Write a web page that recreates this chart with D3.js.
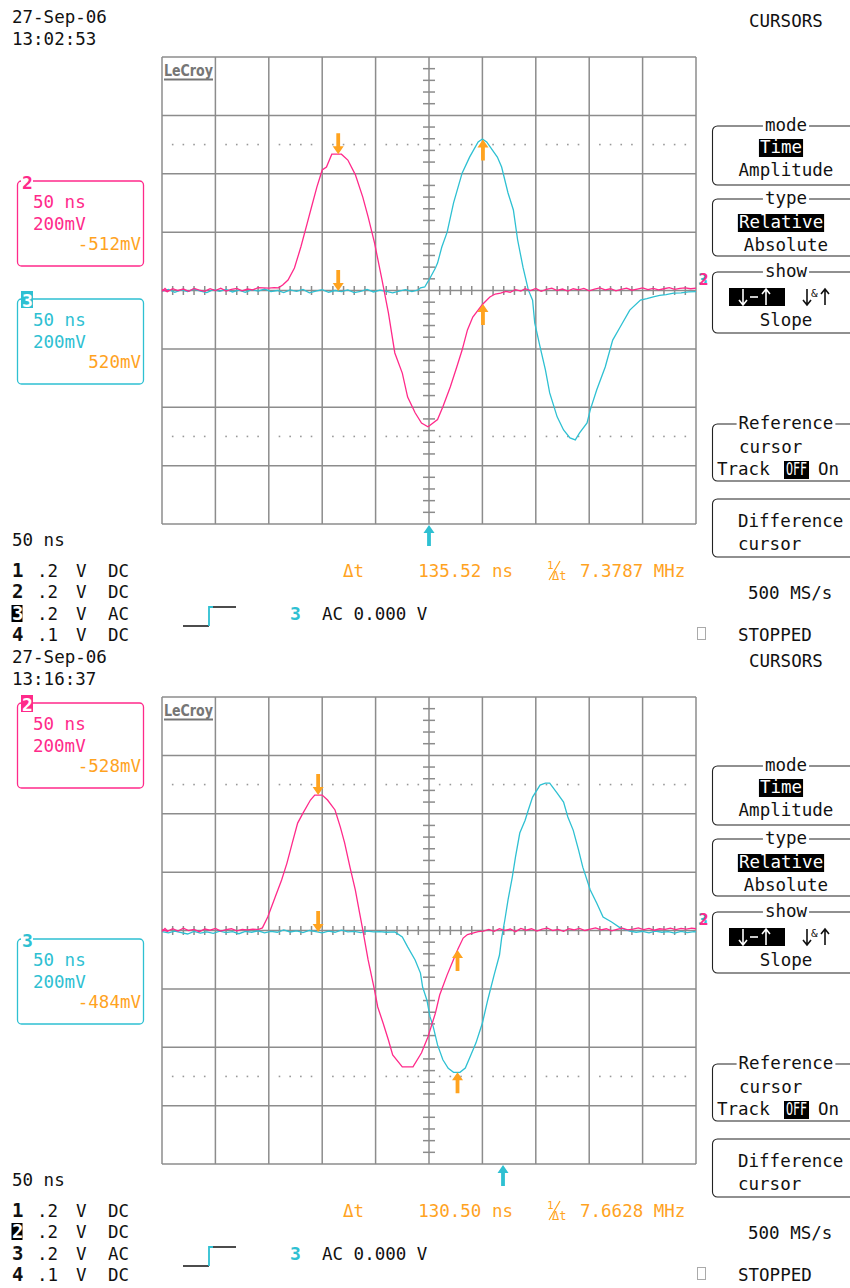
<!DOCTYPE html>
<html>
<head>
<meta charset="utf-8">
<script src="https://cdn.jsdelivr.net/npm/d3@7"></script>
<style>
  html, body { margin: 0; padding: 0; background: #fff; }
  svg { display: block; }
  text { font-family: "DejaVu Sans Mono", monospace; font-size: 17.5px; fill: #111; }
</style>
</head>
<body>
<svg id="scope" width="850" height="1288"></svg>
<script>
// ---- acquisition header ----
const captureDates = ["27-Sep-06", "27-Sep-06"];
const captureTimes = ["13:02:53", "13:16:37"];

// ---- waveforms: [time ns, amplitude mV] ----
const ch2First = [[-250,3],[-245,-4],[-240,6],[-235,0],[-230,5],[-225,-3],[-220,7],[-215,1],[-210,-3],[-205,6],[-200,0],[-195,8],[-190,-2],[-185,4],[-180,7],[-175,-1],[-170,5],[-165,2],[-160,10],[-155,9],[-150,8],[-145,10],[-141,9],[-137,19],[-132,36],[-126,77],[-120,149],[-114,231],[-110,286],[-105,354],[-100,413],[-96,423],[-91,467],[-82,467],[-76,447],[-69,397],[-62,320],[-57,252],[-51,163],[-44,36],[-38,-77],[-32,-214],[-25,-283],[-20,-365],[-13,-419],[-7,-454],[-1,-467],[1,-462],[8,-442],[13,-398],[20,-330],[26,-262],[31,-204],[36,-135],[41,-91],[50,-48],[57,-22],[62,-12],[67,-9],[72,-3],[76,-6],[81,3],[86,-2],[90,6],[95,0],[100,7],[105,-3],[110,4],[115,8],[120,0],[125,5],[130,-2],[135,6],[140,2],[145,7],[150,-1],[155,5],[160,9],[165,2],[170,6],[175,-1],[180,4],[185,8],[190,1],[195,5],[200,9],[205,3],[210,7],[215,2],[220,6],[225,10],[230,4],[235,7],[240,9],[245,6],[250,8]];
const ch3First = [[-250,-3],[-244,4],[-238,-6],[-232,2],[-226,-4],[-220,5],[-214,-2],[-208,-7],[-202,3],[-196,-3],[-190,4],[-184,-5],[-178,1],[-172,-6],[-166,3],[-160,-2],[-154,5],[-148,-4],[-142,0],[-136,-7],[-130,2],[-124,-3],[-118,4],[-112,-8],[-106,-2],[-100,3],[-94,-6],[-88,0],[-82,-4],[-76,2],[-70,-7],[-64,-3],[-58,4],[-52,-5],[-46,1],[-40,-3],[-34,-8],[-28,-2],[-22,3],[-16,-4],[-10,2],[-8,9],[-4,12],[1,43],[6,77],[8,94],[12,149],[17,200],[23,300],[31,402],[38,457],[46,509],[50,519],[54,509],[64,457],[68,423],[74,334],[79,276],[83,173],[88,80],[93,2],[97,-33],[99,-111],[104,-193],[109,-272],[113,-351],[120,-433],[126,-478],[132,-505],[137,-512],[141,-488],[148,-454],[151,-409],[157,-341],[165,-262],[172,-170],[179,-125],[188,-67],[198,-33],[204,-28],[210,-22],[216,-17],[222,-14],[229,-9],[236,-8],[243,-5],[250,-4]];
const ch2Second = [[-250,3],[-245,-3],[-240,6],[-235,-2],[-230,8],[-225,0],[-220,4],[-215,-4],[-210,5],[-205,1],[-200,7],[-195,-2],[-190,3],[-185,6],[-180,-1],[-175,4],[-170,2],[-165,5],[-160,3],[-156,9],[-151,46],[-144,115],[-138,173],[-133,231],[-128,300],[-123,368],[-118,402],[-111,447],[-107,464],[-100,464],[-95,447],[-88,413],[-83,354],[-79,300],[-74,217],[-69,139],[-65,60],[-62,2],[-57,-101],[-51,-204],[-48,-262],[-43,-317],[-38,-375],[-34,-426],[-25,-467],[-15,-467],[-7,-419],[-1,-365],[6,-283],[10,-221],[17,-152],[22,-108],[27,-64],[32,-26],[36,-14],[41,-9],[46,-4],[51,-2],[56,4],[61,-3],[66,6],[71,0],[76,5],[81,-4],[86,7],[91,1],[96,6],[101,-2],[106,5],[111,8],[116,0],[121,4],[126,-3],[131,6],[136,2],[141,7],[146,0],[151,5],[156,9],[161,2],[166,6],[171,-1],[176,4],[181,8],[186,2],[191,5],[196,9],[201,3],[206,7],[211,1],[216,6],[221,4],[226,8],[231,3],[236,7],[241,5],[246,8],[250,6]];
const ch3Second = [[-250,-4],[-244,-8],[-238,-2],[-232,-7],[-226,-12],[-220,-3],[-214,-9],[-208,-5],[-202,-10],[-196,-2],[-190,-7],[-184,-4],[-178,-11],[-172,-3],[-166,-6],[-160,-1],[-154,-8],[-148,-3],[-142,-6],[-136,2],[-130,-5],[-124,-1],[-118,-7],[-112,0],[-106,-4],[-100,-8],[-94,-2],[-88,-6],[-82,1],[-76,-5],[-70,-3],[-64,-7],[-58,-2],[-52,-5],[-46,-4],[-40,-6],[-32,-5],[-25,-22],[-20,-56],[-13,-101],[-8,-146],[-6,-193],[-2,-238],[1,-296],[4,-330],[8,-392],[13,-443],[18,-472],[23,-486],[29,-486],[34,-471],[38,-437],[44,-385],[50,-317],[55,-238],[61,-152],[66,-84],[68,-26],[71,36],[74,105],[78,183],[81,252],[85,334],[90,378],[93,413],[97,457],[104,498],[109,505],[113,505],[120,471],[126,440],[130,389],[135,344],[140,276],[144,217],[151,139],[157,94],[163,46],[171,29],[179,9],[188,-2],[194,-6],[200,-3],[206,-8],[212,-2],[218,-6],[224,-4],[230,-9],[236,-3],[242,-7],[248,-4],[250,-5]];

// ---- cursor and trigger settings ----
const cursorStartNs = [-85.0, -103.8];
const deltaTNs = [135.52, 130.50];
const inverseDeltaLabels = ["7.3787 MHz", "7.6628 MHz"];
const ch2Readouts = ["-512mV", "-528mV"];
const ch3Readouts = ["520mV", "-484mV"];
const triggerNs = [0, 69.3];
const selectedChannel = [3, 2];     // channel shown highlighted in the lower table
const ch2LabelInverse = [false, true];
const ch3LabelInverse = [true, false];

// ---- channel table and fixed labels ----
const channelNumbers = ["1", "2", "3", "4"];
const channelScales = [".2", ".2", ".2", ".1"];
const channelCoupling = ["DC", "DC", "AC", "DC"];
const timeDivLabel = "50 ns";
const voltDivLabel = "200mV";
const sampleRateLabel = "500 MS/s";
const runStateLabel = "STOPPED";
const triggerLabel = "AC 0.000 V";

const PINK = "#ff2a8a", CYAN = "#2ec0d2", ORANGE = "#ffa31f", GRID = "#8c8c8c";
const CW = 10.53; // monospace advance at 17.5px

const svg = d3.select("#scope");

function txt(g, x, y, s, o = {}) {
  const t = g.append("text").attr("x", x).attr("y", y).text(s);
  if (o.fill) t.style("fill", o.fill);
  if (o.anchor) t.attr("text-anchor", o.anchor);
  if (o.size) t.style("font-size", o.size + "px");
  if (o.weight) t.style("font-weight", o.weight);
  if (o.family) t.style("font-family", o.family);
  if (o.len) t.attr("textLength", o.len).attr("lengthAdjust", "spacingAndGlyphs");
  return t;
}

function inverseText(g, cx, y, s) {
  const w = s.length * CW;
  const x0 = cx - w / 2;
  g.append("rect").attr("x", x0 - 1).attr("y", y - 14).attr("width", w + 2).attr("height", 18).attr("fill", "#000");
  txt(g, x0, y, s, { fill: "#fff" });
}

function valueAt(trace, t) {
  const i = d3.bisector(d => d[0]).left(trace, t);
  if (i <= 0) return trace[0][1];
  if (i >= trace.length) return trace[trace.length - 1][1];
  const a = trace[i - 1], b = trace[i];
  return a[1] + (b[1] - a[1]) * (t - a[0]) / (b[0] - a[0]);
}

function cursorArrow(g, x, tipY, dir, color) {
  // dir = 1 : arrow pointing down onto the trace ; dir = -1 : pointing up
  const len = 21, head = 8, hw = 5.5, sw = 1.9;
  const back = tipY - dir * len, neck = tipY - dir * head;
  g.append("path")
    .attr("d", `M${x - sw},${back} L${x + sw},${back} L${x + sw},${neck} L${x + hw},${neck} L${x},${tipY} L${x - hw},${neck} L${x - sw},${neck} Z`)
    .attr("fill", color);
}

// thin menu arrow symbol (down when dir = 1)
function menuArrow(g, x, top, bottom, dir, color) {
  const tip = dir === 1 ? bottom : top;
  const back = dir === 1 ? top : bottom;
  g.append("path").attr("d", `M${x},${back} V${tip} M${x - 4},${tip - dir * 5} L${x},${tip} L${x + 4},${tip - dir * 5}`)
    .attr("fill", "none").attr("stroke", color).attr("stroke-width", 1.6);
}

function menuBox(g, top, bottom, title) {
  g.append("rect").attr("x", 712.5).attr("y", top).attr("width", 180).attr("height", bottom - top)
    .attr("rx", 5).attr("fill", "none").attr("stroke", "#222").attr("stroke-width", 1.1);
  if (title) {
    const w = title.length * CW;
    g.append("rect").attr("x", 786 - w / 2 - 2).attr("y", top - 3).attr("width", w + 4).attr("height", 6).attr("fill", "#fff");
    txt(g, 786, top + 5, title, { anchor: "middle" });
  }
}

function drawPanel(i) {
  const oy = i * 640;
  const g = svg.append("g");
  const trace2 = i === 0 ? ch2First : ch2Second;
  const trace3 = i === 0 ? ch3First : ch3Second;

  const x = d3.scaleLinear().domain([-250, 250]).range([162, 696]);
  const y = d3.scaleLinear().domain([-800, 800]).range([524 + oy, 57 + oy]);

  // header
  txt(g, 12, 23 + oy, captureDates[i]);
  txt(g, 12, 45 + oy, captureTimes[i]);
  txt(g, 749, 27 + oy, "CURSORS");

  // graticule
  const grid = g.append("g").attr("stroke", GRID).attr("stroke-width", 1.5);
  d3.range(-250, 251, 50).forEach(t =>
    grid.append("line").attr("x1", x(t)).attr("x2", x(t)).attr("y1", y(-800)).attr("y2", y(800)));
  d3.range(-800, 801, 200).forEach(v =>
    grid.append("line").attr("x1", x(-250)).attr("x2", x(250)).attr("y1", y(v)).attr("y2", y(v)));
  d3.range(-240, 250, 10).filter(t => t % 50 !== 0).forEach(t =>
    grid.append("line").attr("x1", x(t)).attr("x2", x(t)).attr("y1", y(0) - 4.5).attr("y2", y(0) + 4.5));
  d3.range(-760, 800, 40).filter(v => v % 200 !== 0).forEach(v =>
    grid.append("line").attr("x1", x(0) - 6).attr("x2", x(0) + 6).attr("y1", y(v)).attr("y2", y(v)));

  // dotted amplitude guides at +/-2.5 div
  [500, -500].forEach(v => {
    d3.range(-240, 250, 10).filter(t => t % 50 !== 0).forEach(t =>
      g.append("rect").attr("x", x(t) - 0.8).attr("y", y(v) - 0.8).attr("width", 1.6).attr("height", 1.6).attr("fill", "#999"));
  });

  // logo
  txt(g, 164, 76 + oy, "LeCroy", { family: "DejaVu Sans", weight: "bold", size: 16, fill: "#767676", len: 49 });
  g.append("rect").attr("x", 164).attr("y", 78.5 + oy).attr("width", 49).attr("height", 2).attr("fill", "#767676");

  // traces
  const clipId = "clip" + i;
  svg.append("clipPath").attr("id", clipId).append("rect")
    .attr("x", 162).attr("y", 57 + oy).attr("width", 534).attr("height", 467);
  const line = d3.line().x(d => x(d[0])).y(d => y(d[1]));
  const tg = g.append("g").attr("clip-path", `url(#${clipId})`).attr("fill", "none").attr("stroke-width", 1.3);
  tg.append("path").datum(trace3).attr("d", line).attr("stroke", CYAN);
  tg.append("path").datum(trace2).attr("d", line).attr("stroke", PINK);

  // trace ground markers
  g.append("path").attr("d", `M162,${y(0) + 1} l3,-3 l3,3`).attr("fill", "none").attr("stroke", PINK).attr("stroke-width", 1.3);
  txt(g, 698, y(0) - 6, "3", { fill: CYAN, weight: "bold", size: 16 });
  txt(g, 699, y(0) - 6, "2", { fill: PINK, weight: "bold", size: 16 });

  // cursors
  const c1 = cursorStartNs[i], c2 = cursorStartNs[i] + deltaTNs[i];
  [trace2, trace3].forEach(tr => {
    cursorArrow(g, x(c1), y(valueAt(tr, c1)), 1, ORANGE);
    cursorArrow(g, x(c2), y(valueAt(tr, c2)), -1, ORANGE);
  });

  // trigger position marker
  cursorArrow(g, x(triggerNs[i]), y(-800) + 1, -1, CYAN);

  // channel label boxes
  const boxes = [
    { top: i === 0 ? 181 : 703, color: PINK, num: "2", inv: ch2LabelInverse[i], read: ch2Readouts[i] },
    { top: 299 + oy, color: CYAN, num: "3", inv: ch3LabelInverse[i], read: ch3Readouts[i] }
  ];
  boxes.forEach(b => {
    g.append("rect").attr("x", 17.5).attr("y", b.top).attr("width", 126).attr("height", 85)
      .attr("rx", 4).attr("fill", "none").attr("stroke", b.color).attr("stroke-width", 1.3);
    g.append("rect").attr("x", 21).attr("y", b.top - 8).attr("width", 12).attr("height", 17)
      .attr("fill", b.inv ? b.color : "#fff");
    txt(g, 22, b.top + 8, b.num, { fill: b.inv ? "#fff" : b.color, weight: "bold", size: 18 });
    txt(g, 33, b.top + 27, timeDivLabel, { fill: b.color });
    txt(g, 33, b.top + 49, voltDivLabel, { fill: b.color });
    txt(g, 141, b.top + 69, b.read, { fill: ORANGE, anchor: "end" });
  });

  // lower status block
  txt(g, 12, 546 + oy, timeDivLabel);
  const rowY = [577, 598, 620, 641];
  channelNumbers.forEach((n, k) => {
    const by = rowY[k] + oy;
    if (+n === selectedChannel[i]) {
      g.append("rect").attr("x", 11.5).attr("y", by - 15).attr("width", 11).attr("height", 17).attr("fill", "#000");
      txt(g, 12, by, n, { fill: "#fff", weight: "bold", size: 19 });
    } else {
      txt(g, 12, by, n, { weight: "bold", size: 19 });
    }
    txt(g, 37, by, channelScales[k]);
    txt(g, 76, by, "V");
    txt(g, 108, by, channelCoupling[k]);
  });

  // trigger glyph and level
  const tgY1 = 626 + oy, tgY2 = 607 + oy;
  g.append("path").attr("d", `M183,${tgY1} H209`).attr("stroke", "#111").attr("stroke-width", 1.5);
  g.append("path").attr("d", `M209,${tgY1} V${tgY2} H213`).attr("fill", "none").attr("stroke", CYAN).attr("stroke-width", 1.8);
  g.append("path").attr("d", `M213,${tgY2} H236`).attr("stroke", "#111").attr("stroke-width", 1.5);
  txt(g, 290, 620 + oy, "3", { fill: CYAN, weight: "bold", size: 18 });
  txt(g, 322, 620 + oy, triggerLabel);

  // cursor readout
  txt(g, 343, 577 + oy, "\u0394t", { fill: ORANGE });
  txt(g, 513, 577 + oy, deltaTNs[i].toFixed(2) + " ns", { fill: ORANGE, anchor: "end" });
  txt(g, 547, 569 + oy, "1", { fill: ORANGE, size: 11 });
  g.append("line").attr("x1", 549).attr("y1", 580 + oy).attr("x2", 560).attr("y2", 561 + oy).attr("stroke", ORANGE).attr("stroke-width", 1.2);
  txt(g, 552, 580 + oy, "\u0394t", { fill: ORANGE, size: 12 });
  txt(g, 580, 577 + oy, inverseDeltaLabels[i], { fill: ORANGE });

  // right-hand menu
  menuBox(g, 126 + oy, 185 + oy, "mode");
  inverseText(g, 781, 153 + oy, "Time");
  txt(g, 786, 176 + oy, "Amplitude", { anchor: "middle" });

  menuBox(g, 199 + oy, 256 + oy, "type");
  inverseText(g, 781, 228 + oy, "Relative");
  txt(g, 786, 251 + oy, "Absolute", { anchor: "middle" });

  menuBox(g, 272 + oy, 333 + oy, "show");
  g.append("rect").attr("x", 729).attr("y", 288 + oy).attr("width", 56).attr("height", 18).attr("fill", "#000");
  menuArrow(g, 743, 289 + oy, 305 + oy, 1, "#fff");
  g.append("line").attr("x1", 750).attr("x2", 758).attr("y1", 297 + oy).attr("y2", 297 + oy).attr("stroke", "#fff").attr("stroke-width", 1.6);
  menuArrow(g, 766, 289 + oy, 305 + oy, -1, "#fff");
  menuArrow(g, 807, 289 + oy, 305 + oy, 1, "#111");
  txt(g, 811, 297 + oy, "&", { size: 11 });
  menuArrow(g, 825, 289 + oy, 305 + oy, -1, "#111");
  txt(g, 786, 326 + oy, "Slope", { anchor: "middle" });

  menuBox(g, 424 + oy, 481 + oy, "Reference");
  txt(g, 739, 453 + oy, "cursor");
  txt(g, 717, 475 + oy, "Track");
  g.append("rect").attr("x", 784).attr("y", 461 + oy).attr("width", 25).attr("height", 18).attr("fill", "#000");
  txt(g, 786, 475 + oy, "OFF", { fill: "#fff", len: 21 });
  txt(g, 818, 475 + oy, "On");

  menuBox(g, 499 + oy, 557 + oy, null);
  txt(g, 738, 527 + oy, "Difference");
  txt(g, 738, 550 + oy, "cursor");

  txt(g, 748, 599 + oy, sampleRateLabel);
  g.append("rect").attr("x", 697.5).attr("y", 627.5 + oy).attr("width", 8).attr("height", 12).attr("fill", "none").attr("stroke", "#aaa");
  txt(g, 738, 641 + oy, runStateLabel);
}

[0, 1].forEach(drawPanel);
</script>
</body>
</html>
